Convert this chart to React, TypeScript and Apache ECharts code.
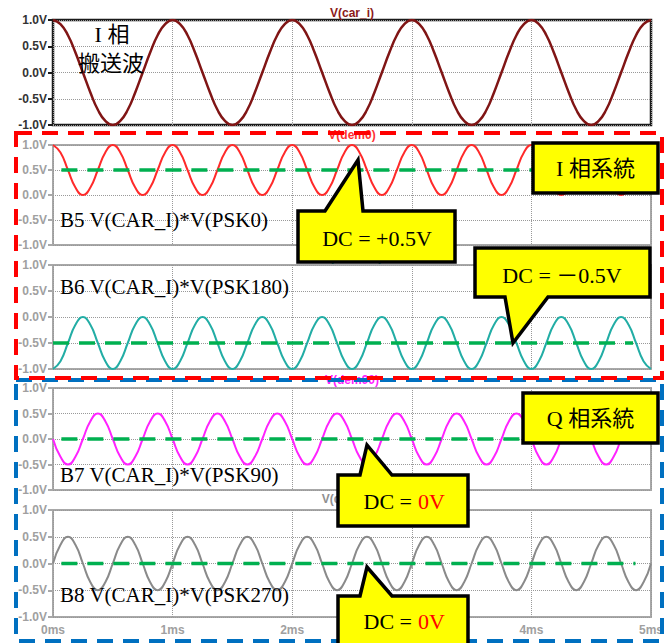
import React, { useEffect, useRef } from "react";
import * as echarts from "echarts";

// time axis in ms (step 1/16 ms)
const timeMs = [
  0, 0.0625, 0.125, 0.1875, 0.25, 0.3125, 0.375, 0.4375, 0.5, 0.5625, 0.625, 0.6875, 0.75, 0.8125, 0.875, 0.9375,
  1, 1.0625, 1.125, 1.1875, 1.25, 1.3125, 1.375, 1.4375, 1.5, 1.5625, 1.625, 1.6875, 1.75, 1.8125, 1.875, 1.9375,
  2, 2.0625, 2.125, 2.1875, 2.25, 2.3125, 2.375, 2.4375, 2.5, 2.5625, 2.625, 2.6875, 2.75, 2.8125, 2.875, 2.9375,
  3, 3.0625, 3.125, 3.1875, 3.25, 3.3125, 3.375, 3.4375, 3.5, 3.5625, 3.625, 3.6875, 3.75, 3.8125, 3.875, 3.9375,
  4, 4.0625, 4.125, 4.1875, 4.25, 4.3125, 4.375, 4.4375, 4.5, 4.5625, 4.625, 4.6875, 4.75, 4.8125, 4.875, 4.9375,
  5,
];

// V(car_i)
const carI = [
  1, 0.92, 0.71, 0.38, 0, -0.38, -0.71, -0.92, -1, -0.92, -0.71, -0.38, 0, 0.38, 0.71, 0.92,
  1, 0.92, 0.71, 0.38, 0, -0.38, -0.71, -0.92, -1, -0.92, -0.71, -0.38, 0, 0.38, 0.71, 0.92,
  1, 0.92, 0.71, 0.38, 0, -0.38, -0.71, -0.92, -1, -0.92, -0.71, -0.38, 0, 0.38, 0.71, 0.92,
  1, 0.92, 0.71, 0.38, 0, -0.38, -0.71, -0.92, -1, -0.92, -0.71, -0.38, 0, 0.38, 0.71, 0.92,
  1, 0.92, 0.71, 0.38, 0, -0.38, -0.71, -0.92, -1, -0.92, -0.71, -0.38, 0, 0.38, 0.71, 0.92,
  1,
];

// V(dem0)
const dem0 = [
  1, 0.85, 0.5, 0.15, 0, 0.15, 0.5, 0.85, 1, 0.85, 0.5, 0.15, 0, 0.15, 0.5, 0.85,
  1, 0.85, 0.5, 0.15, 0, 0.15, 0.5, 0.85, 1, 0.85, 0.5, 0.15, 0, 0.15, 0.5, 0.85,
  1, 0.85, 0.5, 0.15, 0, 0.15, 0.5, 0.85, 1, 0.85, 0.5, 0.15, 0, 0.15, 0.5, 0.85,
  1, 0.85, 0.5, 0.15, 0, 0.15, 0.5, 0.85, 1, 0.85, 0.5, 0.15, 0, 0.15, 0.5, 0.85,
  1, 0.85, 0.5, 0.15, 0, 0.15, 0.5, 0.85, 1, 0.85, 0.5, 0.15, 0, 0.15, 0.5, 0.85,
  1,
];

// V(dem180)
const dem180 = [
  -1, -0.85, -0.5, -0.15, 0, -0.15, -0.5, -0.85, -1, -0.85, -0.5, -0.15, 0, -0.15, -0.5, -0.85,
  -1, -0.85, -0.5, -0.15, 0, -0.15, -0.5, -0.85, -1, -0.85, -0.5, -0.15, 0, -0.15, -0.5, -0.85,
  -1, -0.85, -0.5, -0.15, 0, -0.15, -0.5, -0.85, -1, -0.85, -0.5, -0.15, 0, -0.15, -0.5, -0.85,
  -1, -0.85, -0.5, -0.15, 0, -0.15, -0.5, -0.85, -1, -0.85, -0.5, -0.15, 0, -0.15, -0.5, -0.85,
  -1, -0.85, -0.5, -0.15, 0, -0.15, -0.5, -0.85, -1, -0.85, -0.5, -0.15, 0, -0.15, -0.5, -0.85,
  -1,
];

// V(dem90)
const dem90 = [
  0, -0.35, -0.5, -0.35, 0, 0.35, 0.5, 0.35, 0, -0.35, -0.5, -0.35, 0, 0.35, 0.5, 0.35,
  0, -0.35, -0.5, -0.35, 0, 0.35, 0.5, 0.35, 0, -0.35, -0.5, -0.35, 0, 0.35, 0.5, 0.35,
  0, -0.35, -0.5, -0.35, 0, 0.35, 0.5, 0.35, 0, -0.35, -0.5, -0.35, 0, 0.35, 0.5, 0.35,
  0, -0.35, -0.5, -0.35, 0, 0.35, 0.5, 0.35, 0, -0.35, -0.5, -0.35, 0, 0.35, 0.5, 0.35,
  0, -0.35, -0.5, -0.35, 0, 0.35, 0.5, 0.35, 0, -0.35, -0.5, -0.35, 0, 0.35, 0.5, 0.35,
  0,
];

// V(dem270)
const dem270 = [
  0, 0.35, 0.5, 0.35, 0, -0.35, -0.5, -0.35, 0, 0.35, 0.5, 0.35, 0, -0.35, -0.5, -0.35,
  0, 0.35, 0.5, 0.35, 0, -0.35, -0.5, -0.35, 0, 0.35, 0.5, 0.35, 0, -0.35, -0.5, -0.35,
  0, 0.35, 0.5, 0.35, 0, -0.35, -0.5, -0.35, 0, 0.35, 0.5, 0.35, 0, -0.35, -0.5, -0.35,
  0, 0.35, 0.5, 0.35, 0, -0.35, -0.5, -0.35, 0, 0.35, 0.5, 0.35, 0, -0.35, -0.5, -0.35,
  0, 0.35, 0.5, 0.35, 0, -0.35, -0.5, -0.35, 0, 0.35, 0.5, 0.35, 0, -0.35, -0.5, -0.35,
  0,
];

const paneTitles = ["V(car_i)", "V(dem0)", "V(dem180)", "V(dem90)", "V(dem270)"];
const formulaLabels = ["", "B5 V(CAR_I)*V(PSK0)", "B6 V(CAR_I)*V(PSK180)", "B7 V(CAR_I)*V(PSK90)", "B8 V(CAR_I)*V(PSK270)"];

// DC level (green dashed) per demod pane
const dcLevels = [0.5, -0.5, 0, 0];
const dcStartMs = [0.07, 0.0, 0.07, 0.07];
const dcEndMs = [4.8, 4.85, 4.8, 4.87];

const dcLabels = ["DC = +0.5V", "DC = －0.5V", "DC =", "DC ="];
const dcRedPart = ["", "", "0V", "0V"];
const systemLabels = ["I 相系統", "Q 相系統"];

const seriesValues = [carI, dem0, dem180, dem90, dem270];
const seriesColors = ["#801515", "#FF2A2A", "#22ADA5", "#FF22FF", "#8A8A8A"];

const SERIF = "'Liberation Serif', 'Times New Roman', 'Noto Sans CJK JP', serif";
const SANS = "'Liberation Sans', Arial, sans-serif";

const paneLayout = [
  { top: 20, height: 105 },
  { top: 145, height: 100 },
  { top: 265, height: 104 },
  { top: 388, height: 102 },
  { top: 510, height: 107 },
];
const LEFT = 53;
const WIDTH = 598;

export default function App() {
  const ref = useRef<HTMLDivElement>(null);

  useEffect(() => {
    if (!ref.current) return;
    const chart = echarts.init(ref.current, null, { renderer: "svg" });

    const grids = paneLayout.map((p, i) => ({
      left: LEFT,
      width: WIDTH,
      top: p.top,
      height: p.height,
      show: true,
      borderColor: i === 0 ? "#1a1a1a" : "#a8a8a8",
      borderWidth: i === 0 ? 2.5 : 2,
      backgroundColor: "#ffffff",
    }));

    const xAxes = paneLayout.map((_, i) => ({
      type: "value",
      gridIndex: i,
      min: 0,
      max: 5,
      interval: 1,
      axisLine: { show: false },
      axisTick: {
        show: i === 4,
        length: 5,
        inside: false,
        lineStyle: { color: "#a8a8a8", width: 2 },
      },
      axisLabel: {
        show: i === 4,
        formatter: (v: number) => `${v}ms`,
        color: "#a0a0a0",
        fontWeight: "bold",
        fontFamily: SANS,
        fontSize: 12,
        margin: 7,
      },
      splitLine: { show: true, lineStyle: { type: "dotted", color: "#999", width: 1 } },
    }));

    const yAxes = paneLayout.map((_, i) => ({
      type: "value",
      gridIndex: i,
      min: -1,
      max: 1,
      interval: 0.5,
      axisLine: { show: false },
      axisTick: {
        show: true,
        length: 5,
        lineStyle: { color: i === 0 ? "#1a1a1a" : "#a8a8a8", width: 2 },
      },
      axisLabel: {
        formatter: (v: number) => `${v.toFixed(1)}V`,
        color: i === 0 ? "#333" : "#a0a0a0",
        fontWeight: "bold",
        fontFamily: SANS,
        fontSize: 12,
        margin: 6,
      },
      splitLine: { show: true, lineStyle: { type: "dotted", color: "#999", width: 1 } },
    }));

    const series: any[] = seriesValues.map((vals, i) => ({
      type: "line",
      name: paneTitles[i],
      xAxisIndex: i,
      yAxisIndex: i,
      data: timeMs.map((t, k) => [t, vals[k]]),
      smooth: true,
      showSymbol: false,
      lineStyle: { color: seriesColors[i], width: i === 0 ? 2.5 : 2 },
      z: 3,
    }));

    dcLevels.forEach((lvl, j) => {
      series.push({
        type: "line",
        xAxisIndex: j + 1,
        yAxisIndex: j + 1,
        data: [
          [dcStartMs[j], lvl],
          [dcEndMs[j], lvl],
        ],
        showSymbol: false,
        lineStyle: { color: "#00B050", width: 3.5, type: [16, 10] },
        z: 4,
      });
    });

    const titleColors = ["#8B1A1A", "#FF3030", "#22ADA5", "#FF22FF", "#909090"];
    const titleY = [13, 135, 257, 380, 499];
    const graphics: any[] = [];

    paneTitles.forEach((t, i) => {
      graphics.push({
        type: "text",
        z: 1,
        x: 352,
        y: titleY[i],
        style: {
          text: t,
          fill: titleColors[i],
          font: `bold 12px ${SANS}`,
          textAlign: "center",
          textVerticalAlign: "middle",
        },
      });
    });

    const formulaY = [0, 220, 287, 475, 595];
    formulaLabels.forEach((t, i) => {
      if (!t) return;
      graphics.push({
        type: "text",
        z: 50,
        x: 60,
        y: formulaY[i],
        style: {
          text: t,
          fill: "#000",
          font: `21px ${SERIF}`,
          textAlign: "left",
          textVerticalAlign: "middle",
        },
      });
    });

    // carrier label
    graphics.push({
      type: "text",
      z: 50,
      x: 112,
      y: 34,
      style: { text: "I 相", fill: "#000", font: `22px ${SERIF}`, textAlign: "center", textVerticalAlign: "middle" },
    });
    graphics.push({
      type: "text",
      z: 50,
      x: 111,
      y: 63,
      style: { text: "搬送波", fill: "#000", font: `22px ${SERIF}`, textAlign: "center", textVerticalAlign: "middle" },
    });

    // dashed system frames
    graphics.push({
      type: "rect",
      z: 40,
      shape: { x: 16, y: 380, width: 646, height: 261 },
      style: { fill: "none", stroke: "#0070C0", lineWidth: 4, lineDash: [16, 10] },
    });
    graphics.push({
      type: "rect",
      z: 41,
      shape: { x: 16, y: 133, width: 646, height: 245 },
      style: { fill: "none", stroke: "#FF0000", lineWidth: 4, lineDash: [16, 10] },
    });

    // callouts
    const callouts = [
      [[298, 211], [325, 211], [358, 160], [363, 211], [455, 211], [455, 262], [298, 262]],
      [[475, 248], [650, 248], [650, 297], [548, 297], [513, 343], [505, 297], [475, 297]],
      [[338, 475], [360, 475], [367, 445], [392, 475], [468, 475], [468, 526], [338, 526]],
      [[338, 596], [360, 596], [367, 567], [392, 596], [468, 596], [468, 648], [338, 648]],
    ];
    const calloutTextPos = [
      [377, 238],
      [562, 275],
      [403, 501],
      [403, 621],
    ];
    callouts.forEach((pts, j) => {
      graphics.push({
        type: "polygon",
        z: 60,
        shape: { points: pts },
        style: { fill: "#FFFF00", stroke: "#000", lineWidth: 3.5, lineJoin: "miter" },
      });
      const red = dcRedPart[j];
      const [cx, cy] = calloutTextPos[j];
      if (red) {
        graphics.push({
          type: "text",
          z: 61,
          x: cx + 9,
          y: cy,
          style: { text: dcLabels[j], fill: "#000", font: `22px ${SERIF}`, textAlign: "right", textVerticalAlign: "middle" },
        });
        graphics.push({
          type: "text",
          z: 61,
          x: cx + 15,
          y: cy,
          style: { text: red, fill: "#FF0000", font: `22px ${SERIF}`, textAlign: "left", textVerticalAlign: "middle" },
        });
      } else {
        graphics.push({
          type: "text",
          z: 61,
          x: cx,
          y: cy,
          style: { text: dcLabels[j], fill: "#000", font: `22px ${SERIF}`, textAlign: "center", textVerticalAlign: "middle" },
        });
      }
    });

    // system boxes
    const sysBoxes = [
      { x: 533, y: 143, w: 125, h: 50 },
      { x: 523, y: 393, w: 135, h: 50 },
    ];
    sysBoxes.forEach((b, j) => {
      graphics.push({
        type: "rect",
        z: 60,
        shape: { x: b.x, y: b.y, width: b.w, height: b.h },
        style: { fill: "#FFFF00", stroke: "#000", lineWidth: 3.5 },
      });
      graphics.push({
        type: "text",
        z: 61,
        x: b.x + b.w / 2,
        y: b.y + b.h / 2,
        style: {
          text: systemLabels[j],
          fill: "#000",
          font: `22px ${SERIF}`,
          textAlign: "center",
          textVerticalAlign: "middle",
        },
      });
    });

    chart.setOption({
      animation: false,
      backgroundColor: "#ffffff",
      grid: grids,
      xAxis: xAxes,
      yAxis: yAxes,
      series,
      graphic: graphics,
    });

    return () => chart.dispose();
  }, []);

  return (
    <div
      ref={ref}
      style={{ position: "fixed", left: 0, top: 0, width: 672, height: 643, background: "#fff" }}
    />
  );
}
